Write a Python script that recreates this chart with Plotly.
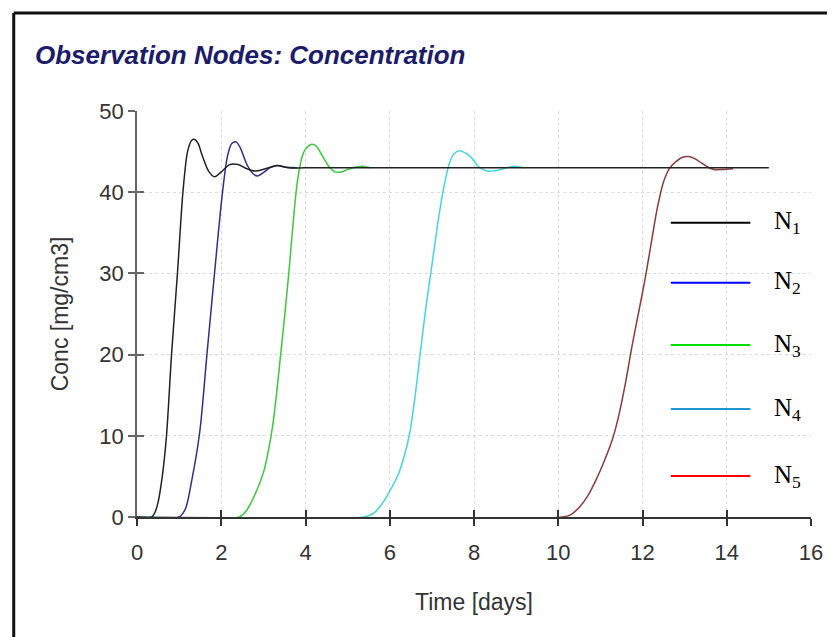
import plotly.graph_objects as go

# ---- data ----
t_n1 = [0, 0.35, 0.42, 0.5, 0.6, 0.7, 0.82, 0.96, 1.09, 1.2, 1.3, 1.37, 1.45, 1.55, 1.7, 1.84, 2.0, 2.2, 2.4, 2.6, 2.8, 3.05, 3.33, 3.6, 4.0, 15.0]
c_n1 = [0, 0, 0.5, 1.8, 5, 10, 20, 30, 40, 45, 46.4, 46.5, 46.0, 44.5, 42.6, 41.9, 42.5, 43.4, 43.4, 42.9, 42.6, 42.9, 43.3, 43.0, 43.0, 43.0]

t_n2 = [0, 1.0, 1.15, 1.3, 1.49, 1.66, 1.84, 2.03, 2.15, 2.25, 2.35, 2.45, 2.6, 2.75, 2.86, 3.0, 3.15, 3.33, 3.5, 3.8]
c_n2 = [0, 0, 1, 4.5, 10.5, 20, 30, 40, 44.5, 46.0, 46.2, 45.5, 43.5, 42.3, 42.0, 42.4, 43.0, 43.3, 43.1, 43.0]

t_n3 = [0, 2.43, 2.6, 2.75, 2.9, 3.02, 3.12, 3.22, 3.32, 3.41, 3.52, 3.62, 3.72, 3.8, 3.9, 4.0, 4.15, 4.25, 4.4, 4.55, 4.7, 4.85, 5.0, 5.2, 5.35, 5.55]
c_n3 = [0, 0, 0.8, 2.2, 4, 5.8, 8.2, 11.2, 15.5, 20, 25.5, 31, 37, 41, 44, 45.3, 45.9, 45.7, 44.5, 43.2, 42.5, 42.5, 42.8, 43.1, 43.2, 43.0]

t_n4 = [0, 5.38, 5.6, 5.8, 6.0, 6.2, 6.35, 6.48, 6.6, 6.72, 6.85, 7.0, 7.15, 7.28, 7.4, 7.52, 7.66, 7.8, 7.95, 8.1, 8.25, 8.45, 8.7, 8.95, 9.2]
c_n4 = [0, 0, 0.4, 1.5, 3.2, 5.2, 7.6, 10.5, 14.8, 20, 25.5, 31, 36.5, 40.5, 43.3, 44.7, 45.1, 44.8, 44.2, 43.2, 42.7, 42.6, 42.9, 43.2, 43.0]

t_n5 = [0, 10.1, 10.3, 10.5, 10.7, 10.9, 11.1, 11.3, 11.45, 11.6, 11.75, 11.9, 12.05, 12.2, 12.35, 12.5, 12.65, 12.8, 12.95, 13.1, 13.25, 13.4, 13.55, 13.7, 13.9, 14.15]
c_n5 = [0, 0, 0.3, 1.2, 2.6, 4.6, 7, 9.8, 12.8, 16.6, 21, 25, 29, 33.5, 38, 41.3, 43, 43.8, 44.3, 44.4, 44.1, 43.6, 43.1, 42.8, 42.8, 42.9]

series_names = ["N1", "N2", "N3", "N4", "N5"]
legend_labels = ["N<sub>1</sub>", "N<sub>2</sub>", "N<sub>3</sub>", "N<sub>4</sub>", "N<sub>5</sub>"]
curve_colors = ["#222222", "#303088", "#3cc83c", "#45d5e0", "#8a3c3c"]
legend_colors = ["#000000", "#0000ff", "#00e000", "#1e96d2", "#ff0000"]

x_ticks = [0, 2, 4, 6, 8, 10, 12, 14, 16]
y_ticks = [0, 10, 20, 30, 40, 50]

# ---- figure ----
fig = go.Figure()
data = [(t_n5, c_n5), (t_n4, c_n4), (t_n3, c_n3), (t_n2, c_n2), (t_n1, c_n1)]
idx_order = [4, 3, 2, 1, 0]
for (t, c), i in zip(data, idx_order):
    fig.add_trace(go.Scatter(x=t, y=c, mode="lines", name=series_names[i],
                             line=dict(color=curve_colors[i], width=1.5, shape="spline", smoothing=0.8),
                             showlegend=False))

# invisible trace on overlay axes (for crossing ticks)
fig.add_trace(go.Scatter(x=[0], y=[0], xaxis="x2", yaxis="y2", mode="markers",
                         marker=dict(opacity=0), showlegend=False, hoverinfo="skip"))

OFF = 8  # page body margin
W, H = 835 - OFF, 637 - OFF
L, T = 137 - OFF, 111 - OFF
R = W - (815 - OFF)
B = H - (517 - OFF)
pw, ph = W - L - R, H - T - B

tick_font = dict(family="Liberation Sans, Arial, sans-serif", size=22, color="#333333")
title_font = dict(family="Liberation Sans, Arial, sans-serif", size=23, color="#333333")

fig.update_layout(
    width=W, height=H,
    margin=dict(l=L, r=R, t=T, b=B),
    paper_bgcolor="white", plot_bgcolor="white",
    showlegend=False,
    title=dict(text="<b><i>Observation Nodes: Concentration</i></b>",
               font=dict(family="Liberation Sans, Arial, sans-serif", size=26, color="#1c1c6a"),
               xref="container", yref="container", x=(35 - OFF) / W, xanchor="left",
               y=1 - (55 - OFF) / H, yanchor="middle"),
    xaxis=dict(range=[0, 16], tickvals=x_ticks, ticks="outside", ticklen=7, tickwidth=1.5,
               tickcolor="#333", showline=True, linecolor="#333", linewidth=1.5,
               showgrid=True, gridcolor="#dadada", griddash="dot", gridwidth=1,
               zeroline=False, tickfont=tick_font, ticklabelstandoff=8,
               title=dict(text="Time [days]", font=title_font, standoff=30)),
    yaxis=dict(range=[0, 50], tickvals=y_ticks, ticks="outside", ticklen=7, tickwidth=1.5,
               tickcolor="#666", showline=True, linecolor="#666", linewidth=1.5,
               showgrid=True, gridcolor="#dddddd", griddash="dot", gridwidth=1,
               zeroline=False, tickfont=tick_font,
               title=dict(text="Conc [mg/cm3]", font=title_font, standoff=24)),
    xaxis2=dict(overlaying="x", range=[0, 16], tickvals=x_ticks, ticks="inside", ticklen=7,
                tickwidth=1.5, tickcolor="#333", showticklabels=False, showgrid=False,
                zeroline=False, showline=False, side="bottom"),
    yaxis2=dict(overlaying="y", range=[0, 50], tickvals=y_ticks, ticks="inside", ticklen=7,
                tickwidth=1.5, tickcolor="#666", showticklabels=False, showgrid=False,
                zeroline=False, showline=False, side="left"),
)

def px_to_paper_x(px):
    return (px - OFF - L) / pw

def px_to_paper_y(py):
    return (H - B - (py - OFF)) / ph

# outer frame (top and left edges visible in reference)
fig.add_shape(type="line", xref="paper", yref="paper",
              x0=px_to_paper_x(13), x1=px_to_paper_x(850),
              y0=px_to_paper_y(13), y1=px_to_paper_y(13),
              line=dict(color="#111", width=3))
fig.add_shape(type="line", xref="paper", yref="paper",
              x0=px_to_paper_x(13), x1=px_to_paper_x(13),
              y0=px_to_paper_y(13), y1=px_to_paper_y(650),
              line=dict(color="#111", width=3))

# custom legend
legend_rows_px = [222.7, 282.7, 345, 409, 476]
for lbl, col, py in zip(legend_labels, legend_colors, legend_rows_px):
    yy = px_to_paper_y(py)
    fig.add_shape(type="line", xref="paper", yref="paper",
                  x0=px_to_paper_x(674), x1=px_to_paper_x(754), y0=yy, y1=yy,
                  line=dict(color=col, width=2))
    fig.add_annotation(xref="paper", yref="paper", x=px_to_paper_x(776), y=yy,
                       xanchor="left", yanchor="middle", showarrow=False, text=lbl,
                       font=dict(family="Liberation Serif, Times New Roman, serif", size=25, color="#000"))

fig.write_html("out.html")
